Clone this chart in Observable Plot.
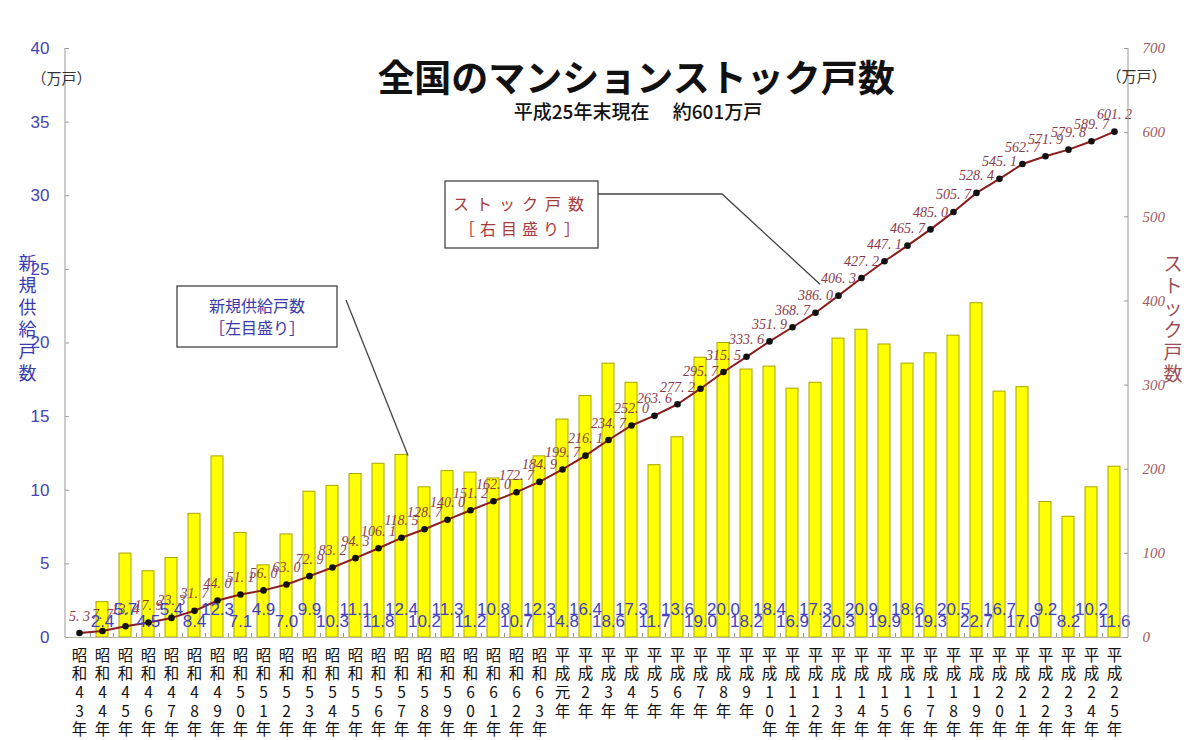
<!DOCTYPE html>
<html><head><meta charset="utf-8">
<script src="https://cdn.jsdelivr.net/npm/d3@7"></script>
<script src="https://cdn.jsdelivr.net/npm/@observablehq/plot@0.6"></script>
<style>
body{margin:0;background:#fff}
#chart svg{display:block}
</style>
</head><body><div id="chart"></div>
<script>
const categories = ["昭和43年","昭和44年","昭和45年","昭和46年","昭和47年","昭和48年","昭和49年","昭和50年","昭和51年","昭和52年","昭和53年","昭和54年","昭和55年","昭和56年","昭和57年","昭和58年","昭和59年","昭和60年","昭和61年","昭和62年","昭和63年","平成元年","平成2年","平成3年","平成4年","平成5年","平成6年","平成7年","平成8年","平成9年","平成10年","平成11年","平成12年","平成13年","平成14年","平成15年","平成16年","平成17年","平成18年","平成19年","平成20年","平成21年","平成22年","平成23年","平成24年","平成25年"];
const newSupply = [null,2.4,5.7,4.5,5.4,8.4,12.3,7.1,4.9,7.0,9.9,10.3,11.1,11.8,12.4,10.2,11.3,11.2,10.8,10.7,12.3,14.8,16.4,18.6,17.3,11.7,13.6,19.0,20.0,18.2,18.4,16.9,17.3,20.3,20.9,19.9,18.6,19.3,20.5,22.7,16.7,17.0,9.2,8.2,10.2,11.6];
const stock = [5.3,7.7,13.4,17.9,23.3,31.7,44.0,51.1,56.0,63.0,72.9,83.2,94.3,106.1,118.5,128.7,140.0,151.2,162.0,172.7,184.9,199.7,216.1,234.7,252.0,263.6,277.2,295.7,315.5,333.6,351.9,368.7,386.0,406.3,427.2,447.1,465.7,485.0,505.7,528.4,545.1,562.7,571.9,579.8,589.7,601.2];
const leftTicks = [0,5,10,15,20,25,30,35,40];
const rightTicks = [0,100,200,300,400,500,600,700];
const title = "全国のマンションストック戸数";
const subtitle = "平成25年末現在　 約601万戸";
const leftUnit = "（万戸）";
const rightUnit = "（万戸）";
const leftTitle = "新規供給戸数";
const rightTitle = "ストック戸数";
const stockNote = ["ストック戸数", "［右目盛り］"];
const supplyNote = ["新規供給戸数", "［左目盛り］"];

const K = 40 / 700; // right scale -> left scale
const rows = categories.map((c, i) => ({cat: c, supply: newSupply[i], stock: stock[i], i}));
const bars = rows.filter(d => d.supply != null);

const W = 1200, H = 740, ML = 65, MR = 72, MT = 48, MB = 103;
const FW = W - ML - MR;
const JP = "'Noto Sans CJK JP', 'Noto Sans', sans-serif";

function annotations(index, scales, values, dims) {
  const x = scales.x, y = scales.y;
  const bw = typeof x.bandwidth === "function" ? x.bandwidth() : 12.5;
  const xc = c => x(c) + bw / 2;
  const g = d3.create("svg:g");
  g.append("line").attr("x1", ML).attr("x2", ML).attr("y1", MT).attr("y2", H - MB).attr("stroke", "#999");
  g.append("line").attr("x1", W - MR).attr("x2", W - MR).attr("y1", MT).attr("y2", H - MB).attr("stroke", "#999");
  categories.forEach((c, i) => {
    if (i === 0) return;
    const xx = x(c) - (x.step ? (x.step() - bw) / 2 : 5);
    g.append("line").attr("x1", xx).attr("x2", xx).attr("y1", H - MB).attr("y2", H - MB - 4).attr("stroke", "#999");
  });
  const sIdx = 32;
  const sx = xc(categories[sIdx]) + 5, sy = y(stock[sIdx] * K) - 28;
  g.append("path").attr("d", `M598,194H722L${sx},${sy}`).attr("fill", "none").attr("stroke", "#444").attr("stroke-width", 1.3);
  g.append("rect").attr("x", 445).attr("y", 181).attr("width", 153).attr("height", 67).attr("fill", "#fff").attr("stroke", "#444").attr("stroke-width", 1.3);
  g.append("text").attr("x", 522).attr("y", 203).attr("text-anchor", "middle").attr("dominant-baseline", "central")
    .attr("font-size", 16).attr("letter-spacing", "7px").attr("fill", "#a83a3a").attr("font-family", JP).text(stockNote[0]);
  g.append("text").attr("x", 522).attr("y", 228).attr("text-anchor", "middle").attr("dominant-baseline", "central")
    .attr("font-size", 16).attr("letter-spacing", "5px").attr("fill", "#a83a3a").attr("font-family", JP).text(stockNote[1]);
  const bIdx = 14;
  const bx = xc(categories[bIdx]) + 7, by = y(newSupply[bIdx]) + 1;
  g.append("path").attr("d", `M346,300L${bx},${by}`).attr("fill", "none").attr("stroke", "#444").attr("stroke-width", 1.3);
  g.append("rect").attr("x", 177).attr("y", 286).attr("width", 160).attr("height", 61).attr("fill", "#fff").attr("stroke", "#444").attr("stroke-width", 1.3);
  g.append("text").attr("x", 257).attr("y", 305).attr("text-anchor", "middle").attr("dominant-baseline", "central")
    .attr("font-size", 16).attr("fill", "#3a3aa8").attr("font-family", JP).text(supplyNote[0]);
  g.append("text").attr("x", 257).attr("y", 327).attr("text-anchor", "middle").attr("dominant-baseline", "central")
    .attr("font-size", 16).attr("fill", "#3a3aa8").attr("font-family", JP).text(supplyNote[1]);
  return g.node();
}

const chart = Plot.plot({
  width: W, height: H,
  marginTop: MT, marginBottom: MB, marginLeft: ML, marginRight: MR,
  style: {fontFamily: "'Liberation Sans', Arial, sans-serif", background: "#fff", overflow: "visible"},
  x: {type: "band", domain: categories, paddingInner: 0.46, paddingOuter: 0.23, label: null},
  y: {domain: [0, 40], label: null},
  marks: [
    Plot.barY(bars, {x: "cat", y: "supply", fill: "#ffff00", stroke: "#a6a600", strokeWidth: 1}),
    Plot.ruleY([0], {stroke: "#b5b5a0"}),
    Plot.tickY(leftTicks, {y: d => d, stroke: "#999", insetRight: FW - 4}),
    Plot.tickY(rightTicks.map(v => v * K), {y: d => d, stroke: "#999", insetLeft: FW - 4}),
    Plot.axisX({tickSize: 0, tickPadding: 10, tickFormat: d => [...d].join("\n"), lineHeight: 1.2, fontSize: 15.5, color: "#111", fontFamily: JP}),
    Plot.axisY({ticks: leftTicks, tickSize: 0, tickPadding: 16, tickFormat: d => String(d), fontSize: 17, color: "#4444b4", label: null}),
    Plot.axisY({anchor: "right", ticks: rightTicks.map(v => v * K), tickFormat: d => String(Math.round(d / K)), tickSize: 0, tickPadding: 14,
      fontSize: 15, fontStyle: "italic", fontFamily: "'Liberation Serif', serif", color: "#a05a5e", label: null}),
    Plot.line(rows, {x: "cat", y: d => d.stock * K, stroke: "#8b1c1c", strokeWidth: 2}),
    Plot.dot(rows, {x: "cat", y: d => d.stock * K, r: 3.3, fill: "#111", stroke: "none"}),
    Plot.text(rows, {x: "cat", y: d => d.stock * K, text: d => d.stock.toFixed(1).replace(".", ". "), dy: -17,
      fill: "#8a3a4a", fontStyle: "italic", fontFamily: "'Liberation Serif', serif", fontSize: 14}),
    Plot.text(bars.filter(d => d.i % 2 === 1), {x: "cat", y: 0, text: d => d.supply.toFixed(1), dy: -16, fill: "#4040c0", fontSize: 17}),
    Plot.text(bars.filter(d => d.i % 2 === 0), {x: "cat", y: 0, text: d => d.supply.toFixed(1), dy: -28, fill: "#4040c0", fontSize: 17}),
    annotations,
    Plot.text([title], {frameAnchor: "top", dx: 39, dy: 17, fontSize: 37, fontWeight: "bold", fill: "#111", fontFamily: JP}),
    Plot.text([subtitle], {frameAnchor: "top", dx: 41, dy: 57, fontSize: 19, fontWeight: "500", fill: "#111", fontFamily: JP}),
    Plot.text([leftUnit], {frameAnchor: "top-left", dx: -34, dy: 25, fontSize: 15, fill: "#333", fontFamily: JP}),
    Plot.text([rightUnit], {frameAnchor: "top-right", dx: 38, dy: 23, fontSize: 15, fill: "#333", fontFamily: JP}),
    Plot.text([[...leftTitle].join("\n")], {frameAnchor: "left", dx: -47, dy: -25.5, fontSize: 18, lineHeight: 22 / 18, fill: "#3a3ab0", fontFamily: JP}),
    Plot.text([[...rightTitle].join("\n")], {frameAnchor: "right", dx: 54, dy: -24.5, fontSize: 19, lineHeight: 22 / 19, fill: "#9b4f55", fontFamily: JP})
  ]
});
document.getElementById("chart").append(chart);
</script>
</body></html>
